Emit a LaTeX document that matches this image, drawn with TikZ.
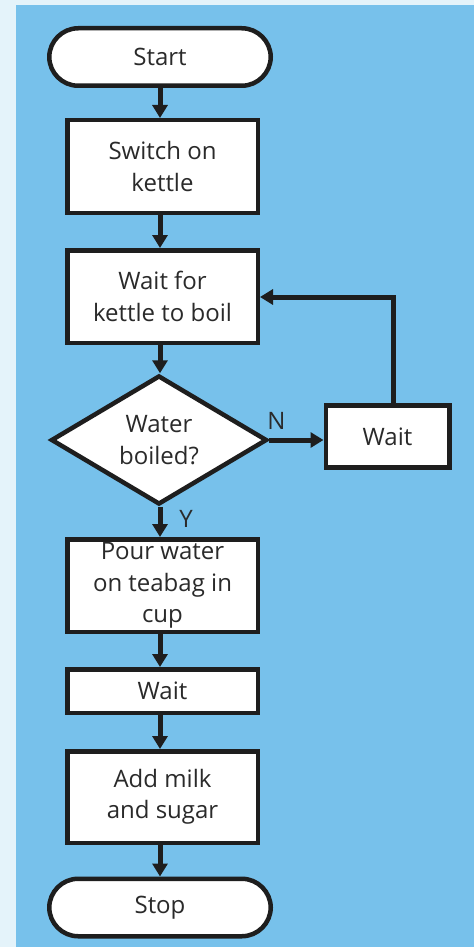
\documentclass[tikz,border=0pt]{standalone}
\usepackage{fontspec}
\setmainfont{Open Sans}
\usetikzlibrary{arrows.meta,shapes.geometric}
\definecolor{panel}{HTML}{77C1EB}
\definecolor{pale}{HTML}{E4F3FA}
\definecolor{ink}{HTML}{1E1E1E}
\definecolor{txt}{HTML}{2A2A2A}
\tikzset{
  x=1pt, y=-1pt,
  base/.style={draw=ink, line width=4.5pt, fill=white, text=txt, align=center,
    font=\fontsize{24}{31.5}\selectfont, inner sep=0pt},
  stepbox/.style={base, rectangle, minimum width=190.5pt},
  term/.style={base, rectangle, rounded corners=29pt, minimum width=221.5pt, minimum height=57.5pt},
  decision/.style={base, diamond, minimum width=216pt, minimum height=129pt, shape aspect=1.7},
  flow/.style={draw=ink, line width=5pt, -{Triangle[width=15pt,length=13pt]}},
  tag/.style={text=txt, font=\fontsize{24}{28}\selectfont, inner sep=0pt}
}
\begin{document}
\begin{tikzpicture}
  % page and coloured panel
  \fill[pale] (0,0) rectangle (474,947);
  \fill[panel] (16,5) rectangle (474,947);
  \useasboundingbox (0,0) rectangle (474,947);

  % main column
  \node[term] (start) at (160,57) {Start};
  \node[stepbox, minimum height=92.5pt] (switch) at (162.5,166.5) {Switch on\\kettle};
  \node[stepbox, minimum height=92.5pt] (boil) at (162.5,296.5) {Wait for\\kettle to boil};
  \node[decision] (check) at (159,440) {Water\\boiled?};
  \node[stepbox, minimum height=92.5pt] (pour) at (162.5,585.5) {\raisebox{-1.5pt}{\parbox{190pt}{\centering Pour water\\on teabag in\\cup}}};
  \node[stepbox, minimum height=43.5pt] (wait) at (162.5,691) {Wait};
  \node[stepbox, minimum height=91.5pt] (milk) at (162.5,797) {Add milk\\and sugar};
  \node[term] (stop) at (160,907.5) {Stop};

  % side loop
  \node[base, rectangle, minimum width=123.5pt, minimum height=62pt] (pause) at (387.5,436.5) {Wait};
  \coordinate (up) at (393,297);

  % connectors
  \draw[flow] (start.south -| 160,0) -- (switch.north -| 160,0);
  \draw[flow] (switch.south -| 160,0) -- (boil.north -| 160,0);
  \draw[flow] (boil.south -| 160,0) -- (check.north -| 160,0);
  \draw[flow] (check.south -| 160,0) -- (pour.north -| 160,0);
  \draw[flow] (pour.south -| 160,0) -- (wait.north -| 160,0);
  \draw[flow] (wait.south -| 160,0) -- (milk.north -| 160,0);
  \draw[flow] (milk.south -| 160,0) -- (stop.north -| 160,0);
  \draw[flow] (check.east) -- (check.east -| pause.west);
  \draw[flow] (pause.north -| up) -- (up) -- (up -| boil.east);

  % branch labels
  \node[tag] (no) at (276.5,421) {N};
  \node[tag] (yes) at (186,519) {Y};
\end{tikzpicture}
\end{document}
